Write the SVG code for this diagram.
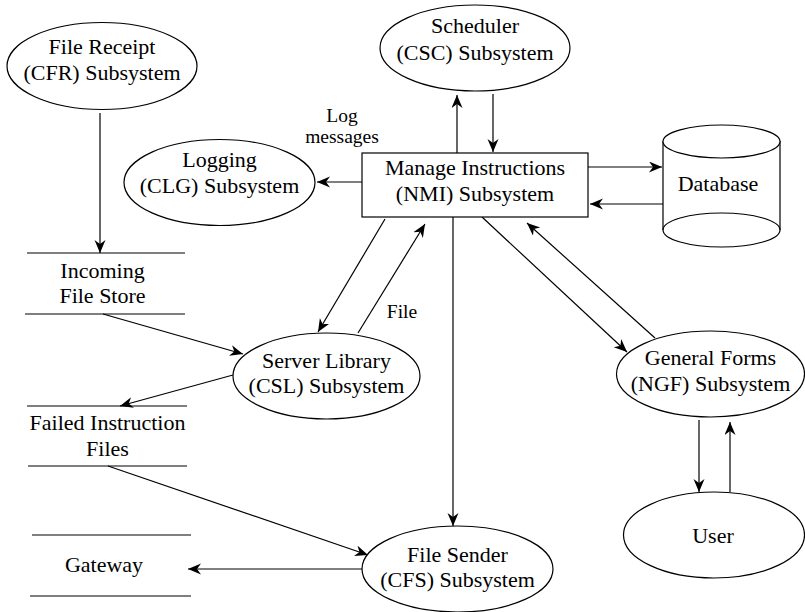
<svg xmlns="http://www.w3.org/2000/svg" width="805" height="612" viewBox="0 0 805 612" font-family="Liberation Serif, Times New Roman, DejaVu Serif, serif">
<defs>
<marker id="arr" markerWidth="14" markerHeight="12" refX="13" refY="5.5" orient="auto" markerUnits="userSpaceOnUse">
<path d="M0,0 L13,5.5 L0,11 L4,5.5 z" fill="#000"/>
</marker>
<style>
.sh{fill:#fff;stroke:#000;stroke-width:1.2}
.ln{fill:none;stroke:#000;stroke-width:1.2}
.c{stroke:#000;stroke-width:1.2;fill:none;marker-end:url(#arr)}
text{font-family:'Liberation Serif','Times New Roman','DejaVu Serif',serif;font-size:22px;fill:#000;text-anchor:middle}
.lb{font-size:19.5px}
</style>
</defs>
<rect width="805" height="612" fill="#fff"/>
<g id="connectors">
<line class="c" x1="100" y1="113" x2="100" y2="253"/>
<line class="c" x1="362" y1="182" x2="317" y2="182"/>
<line class="c" x1="457" y1="153" x2="457" y2="95"/>
<line class="c" x1="493" y1="94" x2="493" y2="152"/>
<line class="c" x1="588" y1="167" x2="662" y2="167"/>
<line class="c" x1="663" y1="204" x2="590" y2="204"/>
<line class="c" x1="385" y1="219" x2="318" y2="332"/>
<line class="c" x1="358" y1="333" x2="425" y2="224"/>
<line class="c" x1="453" y1="217" x2="453" y2="526"/>
<line class="c" x1="482" y1="217" x2="627" y2="352"/>
<line class="c" x1="655" y1="338" x2="527" y2="223"/>
<line class="c" x1="699" y1="420" x2="699" y2="492"/>
<line class="c" x1="730" y1="492" x2="730" y2="422"/>
<line class="c" x1="103" y1="314" x2="243" y2="354"/>
<line class="c" x1="233" y1="375" x2="120" y2="406"/>
<line class="c" x1="108" y1="466" x2="368" y2="555"/>
<line class="c" x1="362" y1="569" x2="188" y2="569"/>
<text class="lb" x="342" y="122">Log</text>
<text class="lb" x="342" y="143">messages</text>
<text class="lb" x="402" y="318">File</text>
</g>
<g id="cfr">
<ellipse class="sh" cx="102" cy="66" rx="95" ry="43.5"/>
<text x="102" y="54">File Receipt</text>
<text x="102" y="80">(CFR) Subsystem</text>
</g>
<g id="clg">
<ellipse class="sh" cx="219.5" cy="182.5" rx="95.5" ry="43"/>
<text x="219.5" y="167">Logging</text>
<text x="219.5" y="193">(CLG) Subsystem</text>
</g>
<g id="csc">
<ellipse class="sh" cx="475" cy="48" rx="95" ry="43"/>
<text x="475" y="33">Scheduler</text>
<text x="475" y="60">(CSC) Subsystem</text>
</g>
<g id="nmi">
<rect class="sh" x="362" y="153" width="226" height="64"/>
<text x="475" y="175">Manage Instructions</text>
<text x="475" y="201">(NMI) Subsystem</text>
</g>
<g id="database">
<path class="sh" d="M663,141 L663,230 A58.5,17 0 0 0 780,230 L780,141"/>
<ellipse class="sh" cx="721.5" cy="141.5" rx="58.5" ry="16.5"/>
<path class="ln" d="M663,230 A58.5,17 0 0 1 780,230"/>
<text x="718" y="191">Database</text>
</g>
<g id="incoming">
<line class="ln" x1="27" y1="253" x2="185" y2="253"/>
<line class="ln" x1="25" y1="314" x2="185" y2="314"/>
<text x="102.5" y="278">Incoming</text>
<text x="102.5" y="303">File Store</text>
</g>
<g id="csl">
<ellipse class="sh" cx="326.5" cy="376" rx="93.5" ry="43"/>
<text x="326.5" y="368">Server Library</text>
<text x="326.5" y="393">(CSL) Subsystem</text>
</g>
<g id="failed">
<line class="ln" x1="27" y1="406" x2="187" y2="406"/>
<line class="ln" x1="28" y1="466" x2="187" y2="466"/>
<text x="107.5" y="430">Failed Instruction</text>
<text x="107.5" y="456">Files</text>
</g>
<g id="gateway">
<line class="ln" x1="32" y1="535" x2="191" y2="535"/>
<line class="ln" x1="30" y1="596" x2="191" y2="596"/>
<text x="104" y="572">Gateway</text>
</g>
<g id="cfs">
<ellipse class="sh" cx="457.5" cy="569" rx="95.5" ry="43"/>
<text x="457.5" y="562">File Sender</text>
<text x="457.5" y="587">(CFS) Subsystem</text>
</g>
<g id="ngf">
<ellipse class="sh" cx="710.5" cy="374" rx="94" ry="43"/>
<text x="710.5" y="365">General Forms</text>
<text x="710.5" y="391">(NGF) Subsystem</text>
</g>
<g id="user">
<ellipse class="sh" cx="714" cy="535" rx="90.5" ry="43"/>
<text x="713" y="543">User</text>
</g>
</svg>
